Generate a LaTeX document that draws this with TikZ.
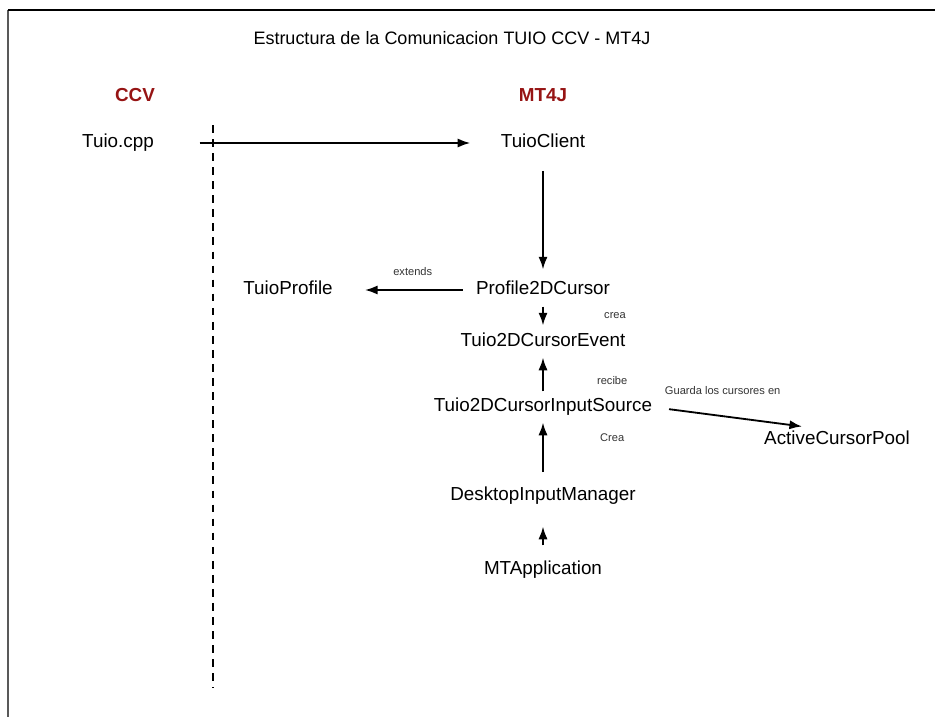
\documentclass[tikz,border=0pt]{standalone}
\usepackage{fontspec}
\setmainfont{Liberation Sans}
\usepackage{xcolor}
\usepackage{tikz}
\usetikzlibrary{positioning,arrows.meta}
\definecolor{headred}{RGB}{150,20,20}
\tikzstyle{arrow} = [-{Latex[length=9pt, width=6.5pt]}, line width=1.3pt]
\tikzstyle{cls} = [inner sep=0pt, text height=9.6pt, text depth=2.8pt, font=\fontsize{13.4}{16}\selectfont]
\tikzstyle{lbl} = [inner sep=0pt, font=\fontsize{7.9}{10}\selectfont, text=black!80]
\tikzstyle{head} = [inner sep=0pt, font=\fontsize{13.4}{16}\selectfont\bfseries, text=headred]

\begin{document}
\begin{tikzpicture}[node distance=1.3cm]
		\useasboundingbox (0,0) rectangle (23.375,-17.925);
		\draw [line width=2pt, black!65] (0.2,-0.25) -- (0.2,-17.925);
		\draw [line width=1.3pt] (0.2,-0.25) -- (23.375,-0.25);

		\node (title) [cls, font=\fontsize{12.8}{15}\selectfont] at (11.3,-1.0) {Estructura de la Comunicacion TUIO CCV - MT4J};

		\node (tclient) [cls] at (13.575,-3.575) {TuioClient};
		\node (tcpp) [cls, left of=tclient, xshift=-9.325cm] {Tuio.cpp};
		\node (mt4j) [head, above of=tclient, yshift=-0.1cm] {MT4J};
		\node (ccv) [head, above of=tcpp, yshift=-0.1cm, xshift=0.425cm] {CCV};
		\node (prof) [cls, below of=tclient, yshift=-2.375cm] {Profile2DCursor};
		\node (tprofile) [cls, left of=prof, xshift=-5.075cm] {TuioProfile};
		\node (tevent) [cls, below of=prof] {Tuio2DCursorEvent};
		\node (tsource) [cls, below of=tevent, yshift=-0.325cm] {Tuio2DCursorInputSource};
		\node (acp) [cls, right of=tsource, xshift=6.05cm, yshift=-0.825cm] {ActiveCursorPool};
		\node (dim) [cls, below of=tsource, yshift=-0.925cm] {DesktopInputManager};
		\node (mtapp) [cls, below of=dim, yshift=-0.55cm] {MTApplication};

		% limite CCV / MT4J
		\draw [line width=1.1pt, dash pattern=on 5.5pt off 4.5pt] (5.325,-3.125) -- (5.325,-17.2);

		\draw [arrow, shorten <=1.14cm, shorten >=0.76cm] (tcpp) -- (tclient);
		\draw [arrow, shorten <=0.47cm, shorten >=0.29cm] (tclient) -- (prof);
		\draw [arrow, shorten <=0.33cm, shorten >=0.8cm] (prof) -- (tprofile)
			node [lbl, midway, xshift=0.21cm, yshift=0.45cm] {extends};
		\draw [arrow, shorten <=0.19cm, shorten >=0.19cm] (prof) -- (tevent)
			node [lbl, midway, xshift=1.8cm] {crea};
		\draw [arrow, shorten <=0.165cm, shorten >=0.165cm] (tsource) -- (tevent)
			node [lbl, midway, xshift=1.73cm, yshift=-0.14cm] {recibe};
		\draw [arrow, shorten <=0.42cm, shorten >=0.88cm] (tsource.east) -- (acp.north)
			node [lbl, midway, xshift=-0.55cm, yshift=0.7cm] {Guarda los cursores en};
		\draw [arrow, shorten <=0.37cm, shorten >=0.165cm] (dim) -- (tsource)
			node [lbl, midway, xshift=1.73cm, yshift=0.34cm] {Crea};
		\draw [arrow, shorten <=0.39cm, shorten >=0.54cm] (mtapp) -- (dim);
	\end{tikzpicture}
\end{document}
